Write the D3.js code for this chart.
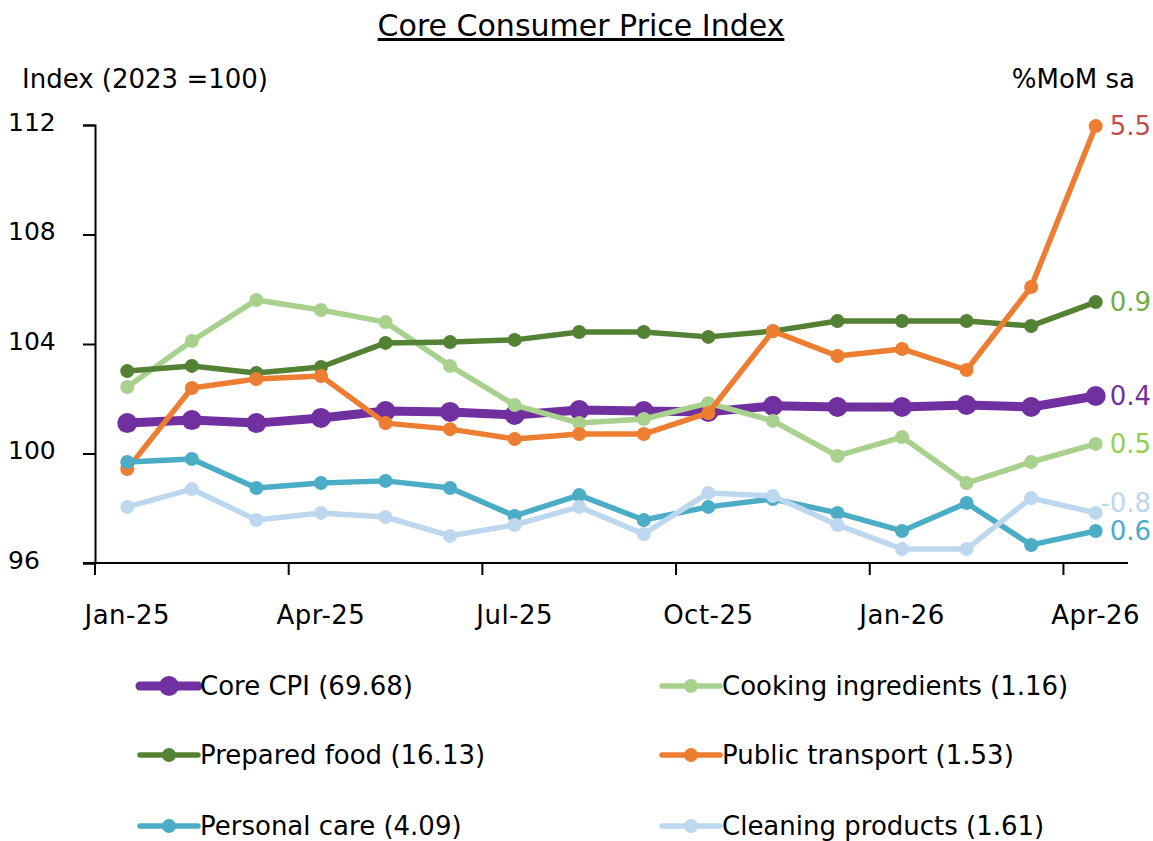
<!DOCTYPE html>
<html>
<head>
<meta charset="utf-8">
<script src="https://cdn.jsdelivr.net/npm/d3@7"></script>
<style>
  body { margin: 0; background: #fff; }
  svg text { font-family: "DejaVu Sans", sans-serif; fill: #000; }
</style>
</head>
<body>
<svg id="chart" width="1153" height="841"></svg>
<script>
// months shown on the x axis
const months = ['Jan-25','Feb-25','Mar-25','Apr-25','May-25','Jun-25','Jul-25','Aug-25',
    'Sep-25','Oct-25','Nov-25','Dec-25','Jan-26','Feb-26','Mar-26','Apr-26']
const tickMonths = ['Jan-25','Apr-25','Jul-25','Oct-25','Jan-26','Apr-26']
const yTicks = [96, 100, 104, 108, 112]

// index values, 2023 = 100
const coreCpi = [101.11,101.22,101.11,101.30,101.55,101.52,101.41,101.59,101.55,101.52,101.74,101.70,101.70,101.77,101.70,102.10]
const preparedFood = [103.01,103.20,102.94,103.16,104.04,104.07,104.15,104.44,104.44,104.26,104.47,104.84,104.84,104.84,104.66,105.53]
const cookingIngredients = [102.43,104.11,105.61,105.24,104.80,103.20,101.77,101.11,101.26,101.84,101.19,99.91,100.60,98.92,99.69,100.35]
const publicTransport = [99.43,102.39,102.72,102.83,101.11,100.89,100.53,100.71,100.71,101.48,104.47,103.56,103.82,103.05,106.08,111.96]
const personalCare = [99.69,99.80,98.74,98.92,99.00,98.74,97.72,98.48,97.57,98.05,98.34,97.83,97.17,98.19,96.66,97.17]
const cleaningProducts = [98.05,98.70,97.57,97.83,97.68,96.99,97.39,98.05,97.06,98.56,98.45,97.39,96.51,96.51,98.37,97.83]

// latest %MoM sa
const seriesNames = ['Core CPI (69.68)','Prepared food (16.13)','Personal care (4.09)',
    'Cooking ingredients (1.16)','Public transport (1.53)','Cleaning products (1.61)']
const momLabels = ['0.4','0.9','0.6','0.5','5.5','-0.8']

const series = [
    { name: seriesNames[0], values: coreCpi, mom: momLabels[0], color: '#7030a0', label: '#7030a0', width: 9, r: 10, legend: [0, 0] },
    { name: seriesNames[1], values: preparedFood, mom: momLabels[1], color: '#548235', label: '#70ad47', width: 5.5, r: 7, legend: [0, 1] },
    { name: seriesNames[2], values: personalCare, mom: momLabels[2], color: '#4bacc6', label: '#4bacc6', width: 5.5, r: 7, legend: [0, 2] },
    { name: seriesNames[3], values: cookingIngredients, mom: momLabels[3], color: '#a9d18e', label: '#92d050', width: 5.5, r: 7, legend: [1, 0] },
    { name: seriesNames[4], values: publicTransport, mom: momLabels[4], color: '#ed7d31', label: '#c0504d', width: 5.5, r: 7, legend: [1, 1] },
    { name: seriesNames[5], values: cleaningProducts, mom: momLabels[5], color: '#bdd7ee', label: '#bdd7ee', width: 5.5, r: 7, legend: [1, 2], dy: -10 }
]
// drawing order (back to front)
const drawOrder = [0, 3, 1, 4, 2, 5]

const svg = d3.select('#chart')

const x = d3.scaleBand().domain(months).range([95, 1128])
const y = d3.scaleLinear().domain([96, 112]).range([563, 125])
const cx = (m) => x(m) + x.bandwidth() / 2

// title
svg.append('text')
    .attr('x', 581).attr('y', 36)
    .attr('text-anchor', 'middle')
    .style('font-size', '30px')
    .style('text-decoration', 'underline')
    .text('Core Consumer Price Index')

svg.append('text').attr('x', 22).attr('y', 88).style('font-size', '26px').text('Index (2023 =100)')
svg.append('text').attr('x', 1135).attr('y', 88).attr('text-anchor', 'end').style('font-size', '26px').text('%MoM sa')

// y axis
const yAxis = svg.append('g')
    .attr('transform', 'translate(95,0)')
    .call(d3.axisLeft(y).tickValues(yTicks).tickSize(12).tickFormat(d3.format('d')))
yAxis.select('.domain').attr('stroke', '#000').attr('stroke-width', 2)
yAxis.selectAll('.tick line').attr('stroke', '#000').attr('stroke-width', 2)
yAxis.selectAll('.tick text')
    .attr('text-anchor', 'start').attr('x', -87).attr('dy', '0.2em')
    .style('font-size', '25px').style('font-family', '"DejaVu Sans", sans-serif')

// x axis: ticks at band edges, labels at band centres
const xg = svg.append('g').attr('transform', 'translate(0,563)')
xg.append('line').attr('x1', 83).attr('x2', 1128).attr('stroke', '#000').attr('stroke-width', 2)
xg.selectAll('.xtick')
    .data(tickMonths)
    .enter().append('line')
    .attr('class', 'xtick')
    .attr('x1', (d) => x(d)).attr('x2', (d) => x(d))
    .attr('y1', 0).attr('y2', 12)
    .attr('stroke', '#000').attr('stroke-width', 2)
xg.selectAll('.xlabel')
    .data(tickMonths)
    .enter().append('text')
    .attr('class', 'xlabel')
    .attr('x', (d) => cx(d)).attr('y', 61)
    .attr('text-anchor', 'middle')
    .style('font-size', '26px')
    .style('letter-spacing', '0.5px')
    .text((d) => d)

// lines
const line = d3.line()
    .x((d, i) => cx(months[i]))
    .y((d) => y(d))

const plot = svg.append('g')
drawOrder.forEach((k) => {
    const s = series[k]
    const g = plot.append('g')
    g.append('path')
        .datum(s.values)
        .attr('d', line)
        .attr('fill', 'none')
        .attr('stroke', s.color)
        .attr('stroke-width', s.width)
        .attr('stroke-linejoin', 'round')
    g.selectAll('circle')
        .data(s.values)
        .enter().append('circle')
        .attr('cx', (d, i) => cx(months[i]))
        .attr('cy', (d) => y(d))
        .attr('r', s.r)
        .attr('fill', s.color)
})

// end labels
svg.selectAll('.mom')
    .data(series)
    .enter().append('text')
    .attr('class', 'mom')
    .attr('x', 1151)
    .attr('y', (d) => y(d.values[d.values.length - 1]) + (d.dy || 0))
    .attr('dy', '0.35em')
    .attr('text-anchor', 'end')
    .style('font-size', '26px')
    .style('fill', (d) => d.label)
    .text((d) => d.mom)

// legend
const colX = [140, 662]
const rowY = [686, 755, 826]
const legend = svg.selectAll('.legend')
    .data(series)
    .enter().append('g')
    .attr('class', 'legend')
    .attr('transform', (d) => `translate(${colX[d.legend[0]]},${rowY[d.legend[1]]})`)
legend.append('line')
    .attr('x1', 0).attr('x2', 58)
    .attr('stroke', (d) => d.color)
    .attr('stroke-width', (d) => d.width)
    .attr('stroke-linecap', 'round')
legend.append('circle')
    .attr('cx', 29)
    .attr('r', (d) => d.r)
    .attr('fill', (d) => d.color)
legend.append('text')
    .attr('x', 60).attr('dy', '0.35em')
    .style('font-size', '26px')
    .text((d) => d.name)
</script>
</body>
</html>
